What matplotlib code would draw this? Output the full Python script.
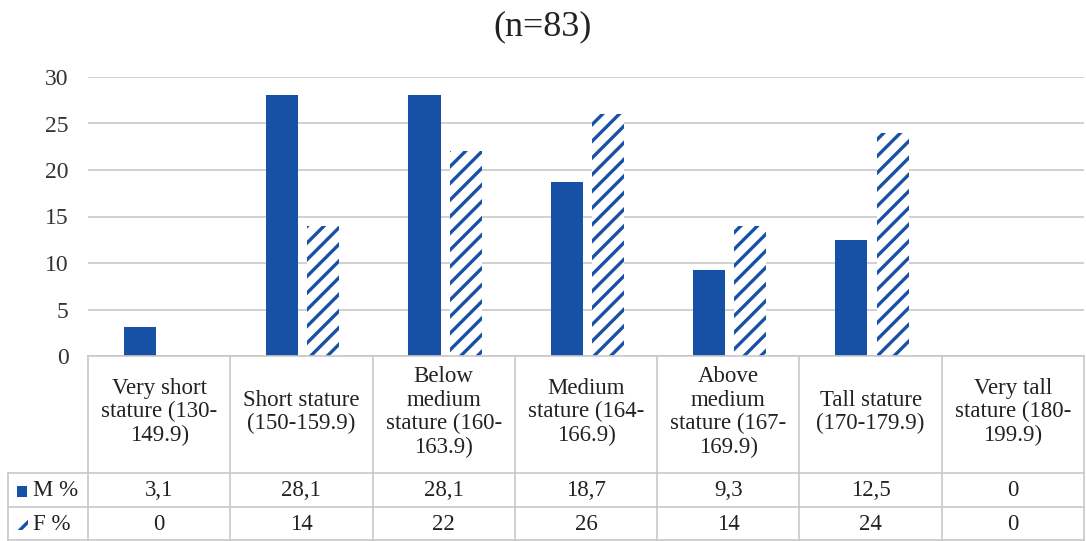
import numpy as np
import matplotlib
matplotlib.use("Agg")
from matplotlib import pyplot as plt
from matplotlib.patches import Rectangle
from matplotlib.lines import Line2D

# stature groups and percentages by sex
categories = ["Very short\nstature (130-\n149.9)", "Short stature\n(150-159.9)",
              "Below\nmedium\nstature (160-\n163.9)", "Medium\nstature (164-\n166.9)",
              "Above\nmedium\nstature (167-\n169.9)", "Tall stature\n(170-179.9)",
              "Very tall\nstature (180-\n199.9)"]
male = [3.1, 28.1, 28.1, 18.7, 9.3, 12.5, 0]
female = [0, 14, 22, 26, 14, 24, 0]
male_labels = ["3,1", "28,1", "28,1", "18,7", "9,3", "12,5", "0"]
female_labels = ["0", "14", "22", "26", "14", "24", "0"]

blue = "#1651A5"
grid = "#C8C8C8"
txt = "#222222"
fs = 16.5
plt.rcParams['font.family'] = ['Liberation Serif', 'DejaVu Serif']
plt.rcParams['hatch.linewidth'] = 2.4

W, H = 1086, 541
fig = plt.figure(figsize=(W / 100, H / 100), dpi=100)

# pixel helpers (origin top-left)
def fx(px):
    return px / W

def fy(py):
    return 1 - py / H

x0, x1 = 88, 1084
y_top, y_base = 77, 356
ax = fig.add_axes([fx(x0), fy(y_base), fx(x1) - fx(x0), fy(y_top) - fy(y_base)])
n = len(categories)
x = np.arange(n)
w = 0.225
ax.bar(x - 0.135, male, w, color=blue, zorder=3)
ax.bar(x + 0.155, female, w, facecolor="white", edgecolor=blue, linewidth=0,
       hatch="//", zorder=3)
ax.set_xlim(-0.5, n - 0.5)
ax.set_ylim(0, 30)
ax.set_yticks(range(0, 31, 5))
ax.yaxis.grid(True, color=grid, linewidth=1.2, zorder=0)
ax.set_xticks([])
ax.tick_params(axis="y", length=0, pad=14, labelsize=17, labelcolor="#333333")
for s in ax.spines.values():
    s.set_visible(False)

fig.text(0.5, fy(27), "(n=83)", ha="center", va="center", fontsize=26, color=txt)

# data table under the chart
col_w = (x1 - x0) / n
row_m, row_f, bottom = 473, 507, 541
lines = []
lines.append(((x0, x1), (y_base, y_base)))
lines.append(((8, x1), (row_m, row_m)))
lines.append(((8, x1), (row_f, row_f)))
lines.append(((8, x1), (bottom - 1, bottom - 1)))
lines.append(((8, 8), (row_m, bottom)))
for i in range(n + 1):
    xp = x0 + i * col_w
    lines.append(((xp, xp), (y_base, bottom)))
for xs, ys in lines:
    fig.add_artist(Line2D([fx(v) for v in xs], [fy(v) for v in ys],
                          color=grid, linewidth=1.2))

for i, cat in enumerate(categories):
    cx = fx(x0 + (i + 0.5) * col_w)
    fig.text(cx, fy(412), cat, ha="center", va="center", fontsize=fs,
             linespacing=1.16, color=txt)
    fig.text(cx, fy((row_m + row_f) / 2), male_labels[i], ha="center", va="center",
             fontsize=fs, color=txt)
    fig.text(cx, fy((row_f + bottom) / 2), female_labels[i], ha="center", va="center",
             fontsize=fs, color=txt)

# series keys in the first column
fig.add_artist(Rectangle((fx(17), fy(497)), fx(10), fx(11) * W / H,
                         facecolor=blue, edgecolor="none"))
fig.add_artist(Rectangle((fx(17), fy(530)), fx(11), fx(12) * W / H,
                         facecolor="white", edgecolor=blue, linewidth=0, hatch="//"))
fig.text(fx(33), fy((row_m + row_f) / 2), "M %", ha="left", va="center",
         fontsize=fs, color=txt)
fig.text(fx(33), fy((row_f + bottom) / 2), "F %", ha="left", va="center",
         fontsize=fs, color=txt)

fig.savefig("out.png", dpi=100, facecolor="white")
